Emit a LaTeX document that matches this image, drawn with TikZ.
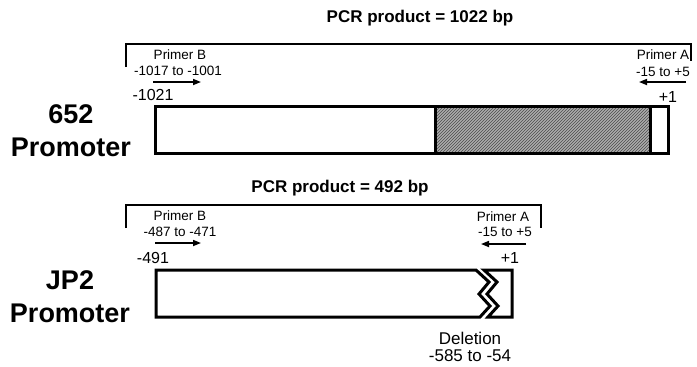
\documentclass[tikz,border=0pt]{standalone}
\usepackage{fontspec}
\setmainfont{Liberation Sans}
\usetikzlibrary{arrows.meta, patterns}

\tikzset{
  primlbl/.style={inner sep=0pt, font=\fontsize{13.5}{14}\selectfont},
  sitelbl/.style={inner sep=0pt, font=\fontsize{16}{17}\selectfont},
  titlelbl/.style={inner sep=0pt, font=\bfseries\fontsize{17}{18}\selectfont},
  promlbl/.style={inner sep=0pt, align=center, font=\bfseries\fontsize{27}{33}\selectfont},
  bracket/.style={line width=1.4pt},
  primer/.style={line width=1.6pt, -{Triangle[length=8pt, width=6pt]}},
  gene/.style={line width=3pt, line join=miter}
}

\begin{document}
\begin{tikzpicture}[x=1pt, y=-1pt]
\useasboundingbox (0,0) rectangle (697,367);

% 652 promoter
\node[titlelbl] (t1) at (420,18) {PCR product = 1022 bp};
\draw[bracket] (126,67) -- (126,44) -- (691,44) -- (691,61);
\node[primlbl] (pb1) at (180,55) {Primer B};
\node[primlbl] (rb1) at (178,71) {-1017 to -1001};
\coordinate (b1s) at (153,82);
\coordinate (b1e) at (201,82);
\draw[primer] (b1s) -- (b1e);
\node[sitelbl] (s1) at (153,95) {-1021};
\node[primlbl] (pa1) at (663,55) {Primer A};
\node[primlbl] (ra1) at (663,72) {-15 to +5};
\coordinate (a1s) at (686,82);
\coordinate (a1e) at (639,82);
\draw[primer] (a1s) -- (a1e);
\node[sitelbl] (e1) at (668,97) {+1};
\fill[gray!65] (435,106) rectangle (650,153);
\fill[pattern=north east lines, pattern color=gray!60!black] (435,106) rectangle (650,153);
\draw[gene] (155,106) rectangle (668,153);
\draw[gene] (435,106) -- (435,153);
\draw[gene] (650,106) -- (650,153);
\node[promlbl] (p1) at (71,131) {652\\Promoter};

% JP2 promoter
\node[titlelbl] (t2) at (340,188) {PCR product = 492 bp};
\draw[bracket] (126,228) -- (126,205) -- (541,205) -- (541,228);
\node[primlbl] (pb2) at (180,216) {Primer B};
\node[primlbl] (rb2) at (180,232) {-487 to -471};
\coordinate (b2s) at (155,243);
\coordinate (b2e) at (201,243);
\draw[primer] (b2s) -- (b2e);
\node[sitelbl] (s2) at (153,258) {-491};
\node[primlbl] (pa2) at (503,217) {Primer A};
\node[primlbl] (ra2) at (505,232) {-15 to +5};
\coordinate (a2s) at (526,244);
\coordinate (a2e) at (481,244);
\draw[primer] (a2s) -- (a2e);
\node[sitelbl] (e2) at (510,258) {+1};
\draw[gene] (476,270) -- (156,270) -- (156,317) -- (480,317)
  -- (490,306) -- (479,294) -- (489,282) -- cycle;
\draw[gene] (484,270) -- (512,270) -- (512,317) -- (488,317)
  -- (498,306) -- (487,294) -- (497,282) -- cycle;
\node[promlbl] (p2) at (70,297) {JP2\\Promoter};
\node[sitelbl, font=\fontsize{17}{18}\selectfont] (d1) at (470,338) {Deletion};
\node[sitelbl, font=\fontsize{17}{18}\selectfont] (d2) at (470,356) {-585 to -54};
\end{tikzpicture}
\end{document}
